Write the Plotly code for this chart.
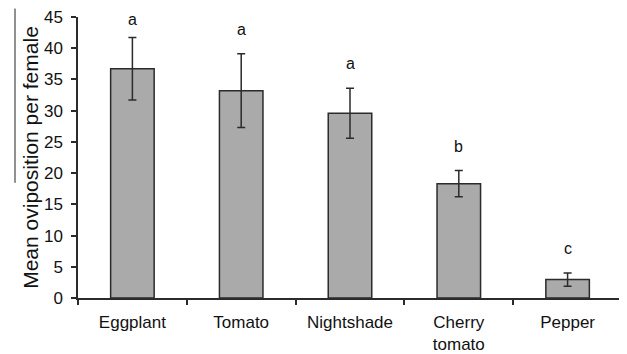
import plotly.graph_objects as go

categories = ["Eggplant", "Tomato", "Nightshade", "Cherry<br>tomato", "Pepper"]
means = [36.7, 33.2, 29.6, 18.3, 2.95]
errors = [5.0, 5.9, 4.0, 2.1, 1.05]
letters = ["a", "a", "a", "b", "c"]
y_ticks = [0, 5, 10, 15, 20, 25, 30, 35, 40, 45]

FONT = "Liberation Sans, Arial, sans-serif"
DARK = "#2b2b2b"

fig = go.Figure()
fig.add_trace(go.Bar(
    x=categories, y=means,
    marker=dict(color="#aaaaaa", line=dict(color=DARK, width=1.5)),
    error_y=dict(type="data", array=errors, visible=True, color=DARK,
                 thickness=1.5, width=4),
    width=0.4,
))

y_max = max(y_ticks)
for c, m, e, l in zip(categories, means, errors, letters):
    # keep the letter inside the plot when the error bar reaches near the top
    fig.add_annotation(x=c, y=min(m + e, y_max - 4.3), text=l, showarrow=False,
                       yanchor="bottom", yshift=14,
                       font=dict(family=FONT, size=16, color="#111"))

# thin scan artifact line at left edge
fig.add_shape(type="line", xref="paper", yref="paper",
              x0=-63 / 544, x1=-63 / 544, y0=0.41, y1=1.03,
              line=dict(color="#222", width=1))

# page body has an 8px default margin: compensate
fig.update_layout(
    width=627, height=354,
    margin=dict(l=70, r=13, t=9, b=64),
    plot_bgcolor="white", paper_bgcolor="white",
    showlegend=False,
    font=dict(family=FONT, color="#111"),
)
fig.update_xaxes(
    type="category", tickson="boundaries", automargin=False,
    showline=True, linecolor=DARK, linewidth=1.5,
    ticks="outside", ticklen=5, tickcolor=DARK, tickwidth=1.5,
    ticklabelstandoff=8,
    tickfont=dict(family=FONT, size=17, color="#111"),
    showgrid=False, range=[-0.5, 4.5],
)
fig.update_yaxes(
    range=[0, 45], tickvals=y_ticks, ticktext=[str(v) for v in y_ticks],
    automargin=False, ticklabeloverflow="allow",
    showline=True, linecolor=DARK, linewidth=1.5,
    ticks="outside", ticklen=5, tickcolor=DARK, tickwidth=1.5,
    ticklabelstandoff=5,
    tickfont=dict(family=FONT, size=17, color="#111"),
    showgrid=False, zeroline=False,
    title=dict(text="Mean oviposition per female", standoff=0,
               font=dict(family=FONT, size=21, color="#111")),
)

fig.write_html("out.html")
